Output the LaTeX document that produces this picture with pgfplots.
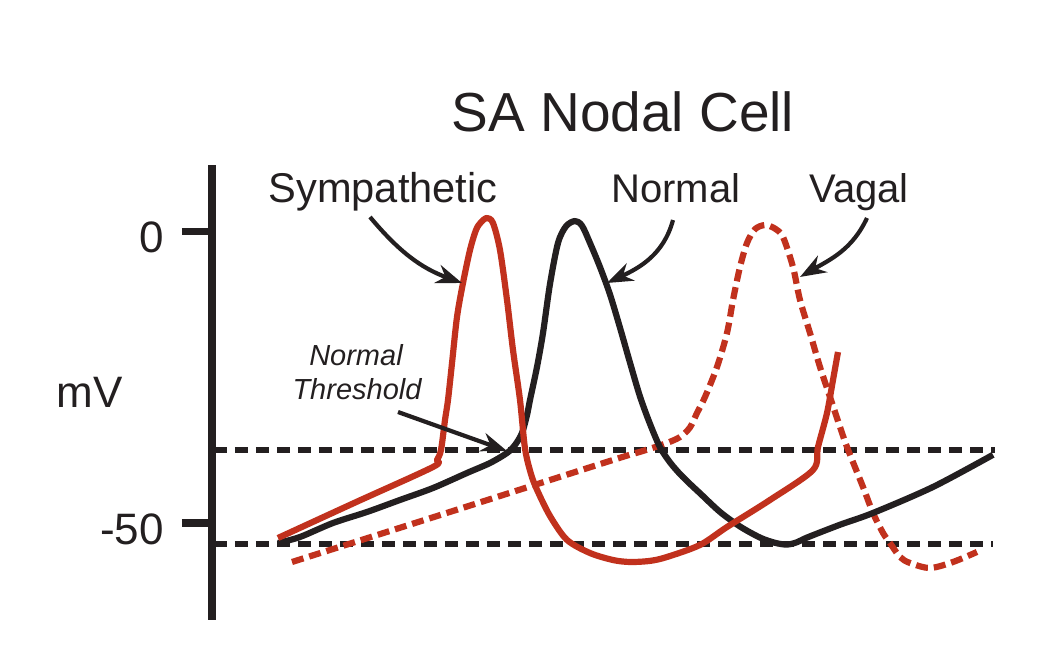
\documentclass[border=0pt]{standalone}
\usepackage{fontspec}
\setmainfont{Liberation Sans}
\usepackage{pgfplots}
\pgfplotsset{compat=1.18}
\usetikzlibrary{arrows.meta}
\definecolor{ink}{RGB}{35,31,32}
\definecolor{apred}{RGB}{193,49,29}
\begin{document}
\begin{tikzpicture}
\useasboundingbox (-106pt,-22pt) rectangle (414pt,310pt);
\begin{axis}[
  at={(0pt,0pt)}, anchor=south west,
  width=394pt, height=227.5pt, scale only axis,
  xmin=212, xmax=1000, ymin=-66.64, ymax=11.41,
  axis x line=none, axis y line=left,
  axis line style={-, line width=3.6pt, ink},
  ytick={-50,0}, yticklabels={-50,0},
  xtick=\empty,
  tick align=outside,
  major tick length=15pt,
  y tick style={ink, line width=3.6pt},
  yticklabel style={font=\fontsize{22}{26}\selectfont, text=ink, yshift=-3pt, xshift=-5.5pt},
  clip=false,
]
% threshold and maximum diastolic potential lines
\addplot[ink, line width=2.9pt, dash pattern=on 6.5pt off 4pt] coordinates {(214,-37.5) (995,-37.5)};
\addplot[ink, line width=2.9pt, dash pattern=on 6.5pt off 4pt] coordinates {(214,-53.6) (993,-53.6)};
% Vagal
\addplot[apred, line width=3.1pt, dash pattern=on 6pt off 3pt, smooth, tension=0.5] coordinates {
(292,-56.69) (450,-48.1) (613,-39.19) (640,-37.8) (665,-36.4) (680,-35.25) (690,-33.6) (697,-31.13)
(705,-28.39) (717,-23.24) (727,-17.41) (733,-11.75) (740,-6.09) (747,-1.97) (755,0.4) (765,1.11)
(775,0.5) (783,-0.94) (793,-6.09) (800,-11.75) (810,-17.41) (820,-23.24) (830,-28.39) (838,-32.5)
(847,-36.96) (863,-43.82) (873,-48.28) (883,-51.7) (890,-53.43) (900,-55.83) (910,-56.86)
(930,-57.72) (953,-56.69) (977,-54.97)};
% Normal
\addplot[ink, line width=3.1pt, line join=round, smooth, tension=0.5] coordinates {
(278,-53.43) (300,-52.4) (333,-50.0) (367,-48.11) (400,-46.05) (433,-44.0) (467,-41.42) (490,-39.71)
(507,-37.99) (515,-36.62) (522,-34.56) (527,-31.5) (530,-28.9) (537,-23.24) (543,-17.41) (550,-9.0)
(558,-1.97) (566,0.9) (575,1.8) (582,1.0) (590,-1.97) (600,-6.1) (610,-10.8) (620,-16.5)
(630,-22.5) (640,-28.3) (650,-33.0) (660,-37.0) (670,-39.6) (680,-41.6) (690,-43.3) (700,-44.9)
(720,-48.1) (740,-50.6) (760,-52.5) (775,-53.4) (787,-53.7) (797,-53.3) (807,-52.5) (840,-50.3)
(873,-48.28) (933,-43.82) (993,-38.3)};
% Sympathetic
\addplot[apred, line width=3.1pt, line join=round, smooth, tension=0.5] coordinates {
(278,-52.57) (355,-46.5) (433,-40.39) (437,-39.2) (441,-37.48) (445,-32.33) (448,-28.9) (452,-22.6)
(457,-14.67) (463,-8.83) (470,-3.17) (476,0.26) (481,1.6) (487,2.32) (493,1.46) (500,-3.17)
(507,-11.75) (513,-20.33) (520,-28.9) (525,-37.2) (531,-41.6) (537,-44.3) (550,-48.8) (567,-52.9)
(590,-55.15) (613,-56.35) (630,-56.69) (650,-56.5) (667,-55.83) (700,-53.77) (727,-50.69)
(770,-46.05) (813,-40.91) (818,-36.96) (827,-31.13) (833,-25.47) (838,-20.67)};
% arrows
\draw[ink, line width=2.1pt, -{Stealth[length=13pt,width=9.5pt]}] (axis cs:370,2.49) to[out=-50,in=160] (axis cs:462,-8.83);
\draw[ink, line width=2.1pt, -{Stealth[length=13pt,width=9.5pt]}] (axis cs:673,1.97) to[out=-105,in=25] (axis cs:607,-8.83);
\draw[ink, line width=2.1pt, -{Stealth[length=13pt,width=9.5pt]}] (axis cs:867,2.32) to[out=-115,in=30] (axis cs:800,-7.8);
\draw[ink, line width=2.1pt, -{Stealth[length=13pt,width=9.5pt]}] (axis cs:398,-30.96) -- (axis cs:507,-37.65);
% texts
\node[anchor=base, font=\fontsize{27.5}{31}\selectfont, text=ink] at (axis cs:623,17.24) {SA Nodal Cell};
\node[anchor=base, font=\fontsize{20.8}{24}\selectfont, text=ink] at (axis cs:383,5.06) {Sympathetic};
\node[anchor=base, font=\fontsize{20}{24}\selectfont, text=ink] at (axis cs:676,5.06) {Normal};
\node[anchor=base, font=\fontsize{20}{24}\selectfont, text=ink] at (axis cs:859,5.06) {Vagal};
\node[anchor=base, font=\fontsize{14.5}{17}\selectfont\itshape, text=ink] at (axis cs:356,-22.9) {Normal};
\node[anchor=base, font=\fontsize{14.5}{17}\selectfont\itshape, text=ink] at (axis cs:357,-28.9) {Threshold};
\node[anchor=base, font=\fontsize{22}{26}\selectfont, text=ink] at (axis cs:90,-30.27) {mV};
\end{axis}
\end{tikzpicture}
\end{document}
